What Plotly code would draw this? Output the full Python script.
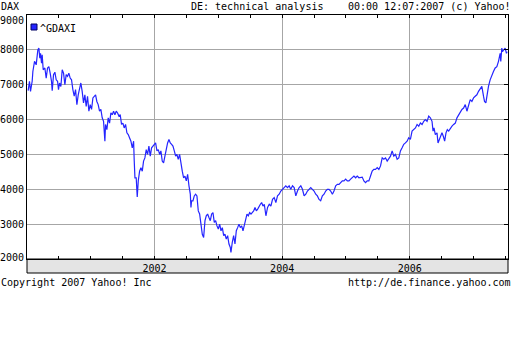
import plotly.graph_objects as go

# ---- data ----
years_a = [
    2000.018, 2000.039, 2000.055, 2000.081, 2000.092, 2000.118, 2000.144, 2000.170, 2000.186, 2000.201,
    2000.212, 2000.228, 2000.238, 2000.254, 2000.280, 2000.301, 2000.322, 2000.343, 2000.363, 2000.384,
    2000.395, 2000.416, 2000.437, 2000.458, 2000.479, 2000.494, 2000.510, 2000.531, 2000.552, 2000.573,
    2000.594, 2000.614, 2000.635, 2000.656, 2000.677, 2000.698, 2000.719, 2000.740, 2000.761, 2000.782,
    2000.803, 2000.824, 2000.844, 2000.865, 2000.886, 2000.907, 2000.928, 2000.949, 2000.970, 2000.991,
    2001.012, 2001.033, 2001.054, 2001.075, 2001.095, 2001.116, 2001.137, 2001.158, 2001.179, 2001.200,
    2001.221, 2001.231, 2001.252, 2001.273, 2001.294, 2001.315, 2001.336, 2001.357, 2001.378, 2001.399,
    2001.420, 2001.441, 2001.461, 2001.482, 2001.503, 2001.524, 2001.545, 2001.566, 2001.587, 2001.608,
    2001.629, 2001.650, 2001.671, 2001.681, 2001.692, 2001.712, 2001.728, 2001.744, 2001.765, 2001.786,
    2001.807, 2001.827, 2001.848, 2001.869, 2001.890, 2001.911, 2001.932, 2001.953, 2001.974, 2001.995,
    2002.016, 2002.037, 2002.058, 2002.079, 2002.099, 2002.120, 2002.141, 2002.162, 2002.183, 2002.204,
    2002.225, 2002.246, 2002.267, 2002.288, 2002.309, 2002.330, 2002.350, 2002.371, 2002.392, 2002.413,
    2002.434, 2002.455, 2002.476, 2002.497, 2002.518, 2002.539, 2002.560, 2002.570, 2002.580, 2002.601,
    2002.622, 2002.643, 2002.664, 2002.685, 2002.706, 2002.727, 2002.748, 2002.769, 2002.790, 2002.810,
    2002.831, 2002.852, 2002.873, 2002.894, 2002.915, 2002.936, 2002.957, 2002.978, 2002.999, 2003.020,
    2003.041, 2003.062, 2003.083, 2003.103, 2003.124, 2003.145, 2003.166, 2003.187, 2003.197, 2003.218,
    2003.239, 2003.260, 2003.281, 2003.302, 2003.323, 2003.344, 2003.365, 2003.386, 2003.407, 2003.428,
    2003.448, 2003.469, 2003.490, 2003.511, 2003.532, 2003.553, 2003.574, 2003.595, 2003.616, 2003.637,
    2003.658, 2003.678, 2003.699, 2003.720,
]
values_a = [
    6830, 7100, 6810, 7100, 7380, 7670, 7570, 8000, 8050, 7760,
    7900, 7620, 7860, 7430, 7480, 7190, 7480, 7520, 7330, 7100,
    6830, 7290, 7360, 7140, 7100, 6860, 7050, 6950, 7430, 7330,
    7000, 7290, 7240, 7330, 7190, 7140, 6860, 6670, 6860, 6430,
    6710, 6950, 7050, 6810, 6480, 6710, 6380, 6670, 6240, 6430,
    6290, 6620, 6670, 6710, 6520, 6430, 6240, 6290, 6050, 5950,
    5380, 5860, 5710, 6050, 5900, 6190, 6140, 6240, 6140, 6240,
    6190, 6100, 6140, 5860, 5900, 5760, 5860, 5620, 5570, 5480,
    5380, 5190, 5380, 4810, 4330, 4330, 3780, 4240, 4520, 4620,
    4520, 4810, 4900, 5140, 5000, 5240, 4950, 5190, 5240, 5290,
    5330, 5100, 5140, 5000, 5100, 4810, 4760, 4950, 5190, 5330,
    5430, 5330, 5290, 5240, 5100, 4950, 5000, 4860, 5000, 4710,
    4520, 4330, 4380, 4240, 4430, 4100, 3860, 3480, 3670, 3670,
    3810, 3860, 3810, 3380, 3290, 3000, 2710, 2620, 3100, 3240,
    3290, 3190, 3100, 3290, 3330, 3050, 3100, 2950, 2860, 3000,
    2810, 2900, 2670, 2710, 2570, 2670, 2430, 2330, 2190, 2480,
    2670, 2430, 2810, 2900, 3000, 2900, 2950, 2810, 3000, 3190,
    3290, 3240, 3330, 3290, 3330, 3380, 3480, 3380, 3430, 3520,
    3570, 3620, 3520, 3570,
]
years_b = [
    2003.745, 2003.771, 2003.797, 2003.823, 2003.849, 2003.875, 2003.901, 2003.927, 2003.953, 2003.979,
    2004.005, 2004.031, 2004.057, 2004.083, 2004.109, 2004.135, 2004.162, 2004.188, 2004.214, 2004.240,
    2004.266, 2004.292, 2004.318, 2004.344, 2004.370, 2004.396, 2004.422, 2004.448, 2004.474, 2004.500,
    2004.526, 2004.552, 2004.578, 2004.604, 2004.630, 2004.656, 2004.682, 2004.708, 2004.734, 2004.760,
    2004.787, 2004.812, 2004.839, 2004.865, 2004.891, 2004.917, 2004.943, 2004.969, 2004.995, 2005.021,
    2005.047, 2005.073, 2005.099, 2005.125, 2005.151, 2005.177, 2005.203, 2005.229, 2005.255, 2005.281,
    2005.307, 2005.333, 2005.359, 2005.385, 2005.411, 2005.437, 2005.463, 2005.490, 2005.516, 2005.542,
    2005.568, 2005.594, 2005.620, 2005.646, 2005.672, 2005.698, 2005.724, 2005.750, 2005.776, 2005.802,
    2005.828, 2005.854, 2005.880, 2005.906, 2005.932, 2005.958, 2005.984, 2006.010, 2006.036, 2006.062,
    2006.089, 2006.115, 2006.141, 2006.167, 2006.193, 2006.219, 2006.245, 2006.271, 2006.297, 2006.323,
    2006.349, 2006.365, 2006.380, 2006.401, 2006.427, 2006.443, 2006.464, 2006.484, 2006.505, 2006.526,
    2006.547, 2006.568, 2006.589, 2006.610, 2006.636, 2006.662, 2006.688, 2006.714, 2006.740, 2006.766,
    2006.792, 2006.818, 2006.844, 2006.870, 2006.896, 2006.922, 2006.948, 2006.974, 2007.000, 2007.026,
    2007.052, 2007.078, 2007.104, 2007.130, 2007.156, 2007.172, 2007.193, 2007.208, 2007.234, 2007.260,
    2007.286, 2007.312, 2007.339, 2007.365, 2007.391, 2007.417, 2007.427, 2007.443, 2007.453, 2007.474,
    2007.495, 2007.516, 2007.526,
]
values_b = [
    3240, 3480, 3570, 3520, 3710, 3760, 3620, 3810, 3860, 3950,
    4000, 4050, 4100, 4050, 4100, 4000, 4100, 4050, 3810, 3950,
    4050, 4100, 4000, 3810, 3860, 3950, 4000, 4050, 4000, 3950,
    3860, 3810, 3710, 3670, 3810, 3860, 3950, 4000, 4000, 3950,
    3860, 3950, 4100, 4140, 4140, 4190, 4240, 4240, 4290, 4240,
    4240, 4290, 4330, 4380, 4330, 4380, 4330, 4330, 4350, 4240,
    4190, 4240, 4240, 4380, 4520, 4570, 4570, 4620, 4570, 4670,
    4900, 4860, 4900, 4810, 4900, 4950, 5100, 4950, 5000, 4860,
    4900, 5100, 5190, 5290, 5330, 5380, 5480, 5430, 5670, 5710,
    5760, 5860, 5810, 5900, 5860, 5950, 6000, 5950, 6100, 6050,
    5950, 5670, 5760, 5570, 5620, 5330, 5430, 5480, 5620, 5520,
    5380, 5620, 5710, 5670, 5760, 5810, 5860, 5900, 6050, 6140,
    6190, 6290, 6330, 6430, 6240, 6430, 6570, 6520, 6620, 6670,
    6710, 6810, 6900, 6950, 6670, 6520, 6480, 6710, 6950, 7140,
    7290, 7380, 7480, 7520, 7670, 7900, 7670, 8050, 7950, 8000,
    8050, 7900, 7950,
]
x_major_ticks = [2002, 2004, 2006]
x_major_labels = ["2002", "2004", "2006"]
x_minor_ticks = [2000.5, 2001, 2001.5, 2002.5, 2003, 2003.5, 2004.5, 2005, 2005.5, 2006.5, 2007, 2007.5]
y_ticks = [2000, 3000, 4000, 5000, 6000, 7000, 8000, 9000]
y_labels = [str(v) for v in y_ticks]
series_name = "^GDAXI"

FONT = "DejaVu Sans Mono"
BLUE = "#2424ff"
GRID = "#a6a6a6"

fig = go.Figure()
fig.add_trace(go.Scatter(
    x=years_a + years_b, y=values_a + values_b, mode="lines",
    line=dict(color=BLUE, width=1.2), name=series_name, showlegend=False,
    hoverinfo="skip",
))
# helper trace to anchor right-side tick axis
fig.add_trace(go.Scatter(x=[years_a[0]], y=[values_a[0]], yaxis="y2", mode="markers",
                         marker=dict(opacity=0), showlegend=False, hoverinfo="skip"))

fig.update_layout(
    width=512, height=358,
    margin=dict(l=27, r=4, t=15, b=99, pad=0, autoexpand=False),
    paper_bgcolor="white", plot_bgcolor="white",
    font=dict(family=FONT, size=10, color="black"),
    showlegend=False,
    xaxis=dict(
        range=[2000.0, 2007.54], tickmode="array", tickvals=x_major_ticks, ticktext=x_major_labels,
        ticks="inside", ticklen=3, tickcolor="black", tickwidth=1,
        showgrid=True, gridcolor=GRID, gridwidth=1, zeroline=False,
        showline=True, linecolor="black", linewidth=1, mirror="ticks",
        minor=dict(tickvals=x_minor_ticks, ticks="inside", ticklen=3, tickcolor="black", showgrid=False),
        tickfont=dict(family=FONT, size=10, color="black"),
        fixedrange=True, automargin=False,
    ),
    yaxis=dict(
        range=[2000, 9000], tickmode="array", tickvals=y_ticks, showticklabels=False,
        ticks="", showgrid=True, gridcolor=GRID, gridwidth=1, zeroline=False,
        showline=True, linecolor="black", linewidth=1, mirror=True,
        fixedrange=True, automargin=False,
    ),
    yaxis2=dict(
        range=[2000, 9000], overlaying="y", side="right", tickmode="array", tickvals=y_ticks,
        ticks="inside", ticklen=4, tickcolor="black", showticklabels=False,
        showgrid=False, zeroline=False, showline=False, fixedrange=True, automargin=False,
    ),
)

# y tick labels (placed at the axis values; end labels nudged inside like the original)
for val, lab in zip(y_ticks, y_labels):
    shift = -5 if val == y_ticks[-1] else (2 if val == y_ticks[0] else 0)
    fig.add_annotation(text=lab, xref="paper", yref="y", x=-2/481, y=val, xanchor="right",
                       yanchor="middle", yshift=shift, showarrow=False, borderpad=0,
                       font=dict(family=FONT, size=10, color="black"))

# gray date band below the plot
fig.add_shape(type="rect", xref="paper", yref="paper", x0=0, x1=1, y0=-14/244, y1=0,
              fillcolor="#e4e4e4", line=dict(color="black", width=1), layer="below")
# legend square
fig.add_shape(type="rect", xref="paper", yref="paper", x0=4/481, x1=10/481,
              y0=(259-30)/244, y1=(259-24)/244, fillcolor=BLUE, line=dict(color="#000060", width=1))

def note(text, x, y, xanchor):
    fig.add_annotation(text=text, xref="paper", yref="paper", x=x, y=y, xanchor=xanchor,
                       yanchor="middle", showarrow=False, borderpad=0,
                       font=dict(family=FONT, size=10, color="black"))

note(series_name, 12/481, (259-28.5)/244, "left")
note("DAX", -27/481, (259-6)/244, "left")
note("DE: technical analysis", 163/481, (259-6)/244, "left")
note("00:00 12:07:2007 (c) Yahoo!", 485/481, (259-6)/244, "right")
note("Copyright 2007 Yahoo! Inc", -27/481, (259-282)/244, "left")
note("http://de.finance.yahoo.com", 485/481, (259-282)/244, "right")

fig.write_html("out.html", config={"displayModeBar": False},
               post_script="document.body.style.margin='0';")
